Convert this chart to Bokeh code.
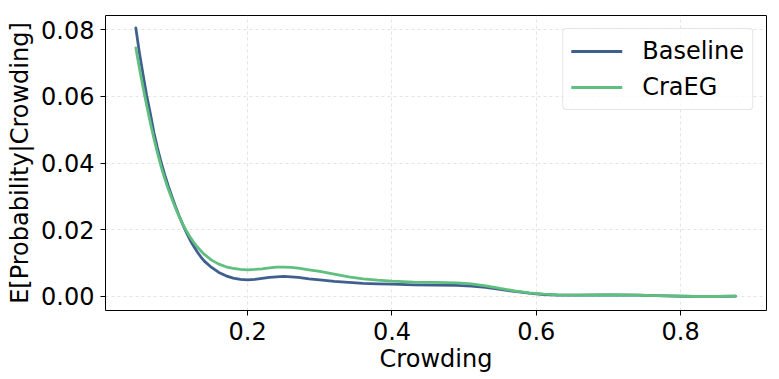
from bokeh.plotting import figure
from bokeh.models import Range1d, FixedTicker, Legend, LegendItem, CustomJSTickFormatter
from bokeh.embed import file_html
from bokeh.resources import INLINE

crowding = [0.045, 0.050, 0.055, 0.060, 0.065, 0.070, 0.075, 0.080, 0.085, 0.090,
            0.095, 0.100, 0.105, 0.110, 0.115, 0.120, 0.125, 0.130, 0.135, 0.140,
            0.150, 0.160, 0.170, 0.180, 0.190, 0.200, 0.210, 0.220, 0.230, 0.240,
            0.250, 0.260, 0.270, 0.285, 0.300, 0.320, 0.340, 0.360, 0.380, 0.400,
            0.430, 0.460, 0.490, 0.510, 0.530, 0.550, 0.570, 0.590, 0.610, 0.630,
            0.660, 0.700, 0.740, 0.780, 0.820, 0.850, 0.876]
baseline = [0.0805, 0.0730, 0.0665, 0.0603, 0.0550, 0.0492, 0.0445, 0.0403, 0.0365, 0.0331,
            0.0300, 0.0270, 0.0242, 0.0216, 0.0192, 0.0170, 0.0151, 0.0134, 0.0119, 0.0106,
            0.0087, 0.0072, 0.0062, 0.0055, 0.0051, 0.0050, 0.0051, 0.0054, 0.0057, 0.0059,
            0.0060, 0.0059, 0.0057, 0.0053, 0.0050, 0.0045, 0.0042, 0.0039, 0.0038, 0.0037,
            0.0035, 0.0034, 0.0033, 0.0031, 0.0027, 0.0021, 0.0015, 0.0010, 0.0006, 0.0004,
            0.0004, 0.0005, 0.0004, 0.0002, 0.0000, 0.0000, 0.0001]
craeg = [0.0745, 0.0685, 0.0627, 0.0573, 0.0522, 0.0474, 0.0430, 0.0390, 0.0354, 0.0322,
         0.0293, 0.0265, 0.0240, 0.0217, 0.0197, 0.0179, 0.0163, 0.0149, 0.0137, 0.0126,
         0.0109, 0.0097, 0.0089, 0.0084, 0.0081, 0.0080, 0.0081, 0.0083, 0.0086, 0.0088,
         0.0088, 0.0087, 0.0085, 0.0080, 0.0075, 0.0067, 0.0059, 0.0053, 0.0049, 0.0046,
         0.0043, 0.0042, 0.0041, 0.0038, 0.0032, 0.0024, 0.0017, 0.0011, 0.0007, 0.0005,
         0.0004, 0.0005, 0.0004, 0.0002, 0.0000, 0.0000, 0.0001]
x_ticks = [0.2, 0.4, 0.6, 0.8]
y_ticks = [0.0, 0.02, 0.04, 0.06, 0.08]

FONT = "DejaVu Sans"

p = figure(width=779, height=379, output_backend="svg", toolbar_location=None,
           x_range=Range1d(0.003, 0.919), y_range=Range1d(-0.0042, 0.0842),
           min_border_left=105, min_border_right=13, min_border_top=15, min_border_bottom=69)

r1 = p.line(crowding, baseline, line_color="#3f5f8f", line_width=2.8,
            line_join="round", line_cap="round")
r2 = p.line(crowding, craeg, line_color="#5fbf7f", line_width=2.8,
            line_join="round", line_cap="round")

p.outline_line_color = "black"
p.outline_line_width = 1

for ax in (p.xaxis, p.yaxis):
    ax.major_label_text_font = FONT
    ax.major_label_text_font_size = "24px"
    ax.major_label_text_color = "black"
    ax.axis_label_text_font = FONT
    ax.axis_label_text_font_size = "24px"
    ax.axis_label_text_font_style = "normal"
    ax.axis_label_text_color = "black"
    ax.minor_tick_line_color = None
    ax.major_tick_out = 5
    ax.major_tick_in = 0
    ax.major_tick_line_color = "black"
    ax.axis_line_color = None

p.xaxis.ticker = FixedTicker(ticks=x_ticks)
p.yaxis.ticker = FixedTicker(ticks=y_ticks)
p.yaxis.formatter = CustomJSTickFormatter(code="return tick.toFixed(2);")
p.xaxis.formatter = CustomJSTickFormatter(code="return tick.toFixed(1);")
p.xaxis.axis_label = "Crowding"
p.yaxis.axis_label = "E[Probability|Crowding]"
p.xaxis.major_label_standoff = 6
p.yaxis.major_label_standoff = 6
p.xaxis.axis_label_standoff = 2
p.yaxis.axis_label_standoff = 4

p.xgrid.grid_line_color = "#b0b0b0"
p.ygrid.grid_line_color = "#b0b0b0"
p.xgrid.grid_line_alpha = 0.35
p.ygrid.grid_line_alpha = 0.35
p.xgrid.grid_line_dash = "3 3"
p.ygrid.grid_line_dash = "3 3"

legend = Legend(items=[LegendItem(label="Baseline", renderers=[r1]),
                       LegendItem(label="CraEG", renderers=[r2])],
                location="top_right")
legend.label_text_font = FONT
legend.label_text_font_size = "24px"
legend.label_text_color = "black"
legend.glyph_width = 51
legend.label_standoff = 20
legend.label_height = 28
legend.glyph_height = 28
legend.spacing = 8
legend.padding = 8
legend.margin = 13
legend.border_line_color = "#cccccc"
legend.border_line_width = 1
legend.border_radius = 4
legend.background_fill_alpha = 0.8
p.add_layout(legend)

open("out.html", "w").write(file_html(p, INLINE))
